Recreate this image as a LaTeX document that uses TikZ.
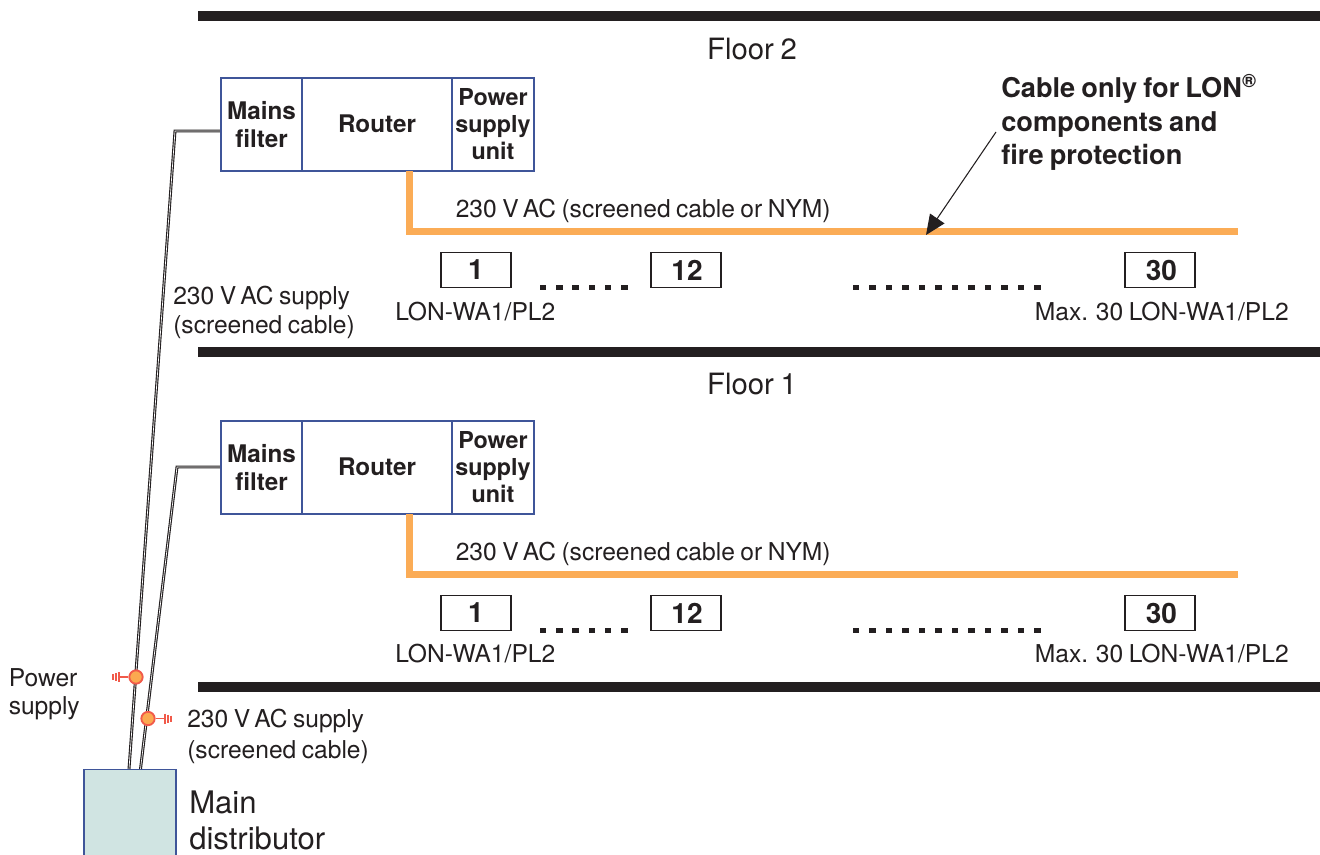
\documentclass[tikz,border=0pt]{standalone}
\usepackage{fontspec}
\setmainfont[WordSpace=0.8]{TeX Gyre Heros}
\usetikzlibrary{arrows.meta}
\definecolor{ink}{HTML}{231F20}
\definecolor{boxblue}{HTML}{3F5599}
\definecolor{cableor}{HTML}{FBAC56}
\definecolor{mainfill}{HTML}{D0E4E2}
\definecolor{symred}{HTML}{F15A4A}
\definecolor{symor}{HTML}{FBA950}
\tikzset{
  x=0.75pt,y=-0.75pt,
  floorbar/.style={fill=ink,draw=none,minimum width=841.5pt,minimum height=7.5pt,inner sep=0pt,anchor=west},
  floorlabel/.style={font=\fontsize{22}{25}\selectfont,text=ink,inner sep=0pt},
  part/.style={draw=boxblue,line width=1.6pt,minimum height=69.75pt,inner sep=0pt,align=center,text=ink,font=\fontsize{18.2}{21.5}\selectfont\bfseries},
  psu/.style={part,font=\fontsize{17.5}{20.3}\selectfont\bfseries},
  wa/.style={draw=ink,line width=0.9pt,minimum width=52.5pt,minimum height=26.25pt,inner sep=0pt,text=ink,font=\fontsize{21}{24}\selectfont\bfseries},
  small/.style={font=\fontsize{18.45}{21.5}\selectfont,text=ink,inner sep=0pt,align=left},
  orange/.style={draw=cableor,line width=5.25pt,line join=miter},
  wire/.style={draw=ink,line width=0.85pt,double=white,double distance=0.5pt,line join=miter},
  dotm/.style={fill=ink,draw=none,minimum width=4.8pt,minimum height=4pt,inner sep=0pt},
  sym/.style={circle,fill=symor,draw=symred,line width=1.4pt,minimum size=10pt,inner sep=0pt},
  symline/.style={draw=symred,line width=1pt},
}
\newcommand{\floorset}[5]{% #1 prefix, #2 box centre y, #3 orange y, #4 box row y, #5 label y
  \node[part,minimum width=60.75pt] (#1mf) at (261.5,#2) {Mains\\filter};
  \node[part,minimum width=112.5pt] (#1rt) at (377,#2) {\raisebox{1pt}{Router}};
  \node[psu,minimum width=61.5pt] (#1ps) at (493,#2) {Power\\supply\\unit};
  \coordinate (#1oa) at (409,#2+46.5);
  \coordinate (#1ob) at (409,#3);
  \coordinate (#1oc) at (1238,#3);
  \draw[orange] (#1oa) -- (#1ob) -- (#1oc);
  \node[wa] (#1a) at (476,#4) {1};
  \node[wa] (#1b) at (686,#4) {\hspace{1.5pt}12};
  \node[wa] (#1c) at (1160,#4) {\hspace{2pt}30};
  \foreach \i in {0,...,5}{\node[dotm] (#1d\i) at (543+16.3*\i,#4+17.5) {};}
  \foreach \i in {0,...,11}{\node[dotm] (#1e\i) at (856+16.5*\i,#4+17.5) {};}
  \node[small,anchor=base west] (#1lw) at (395,#5) {LON-WA1/PL2};
  \node[small,anchor=base east] (#1lx) at (1289,#5) {Max. 30 LON-WA1/PL2};
  \node[small,anchor=base west] (#1lv) at (455.5,#3-14) {230 V\,AC (screened cable or NYM)};
}
\begin{document}
\begin{tikzpicture}
\useasboundingbox (0,0) rectangle (1320,854);
\clip (0,0) rectangle (1320,854);
% floor bars
\node[floorbar] (bar2) at (198,16) {};
\node[floorbar] (bar1) at (198,352) {};
\node[floorbar] (bar0) at (198,687) {};
\node[floorlabel] (fl2) at (752,49) {Floor 2};
\node[floorlabel] (fl1) at (752,384) {Floor 1};
% floors
\floorset{u}{124.5}{231}{270}{320}
\floorset{l}{467.5}{574}{613}{662}
% main distributor
\node[draw=boxblue,fill=mainfill,line width=1.4pt,minimum width=69pt,minimum height=80pt,inner sep=0pt,anchor=north west] (md) at (83,768.5) {};
\node[font=\fontsize{23.3}{26.5}\selectfont,text=ink,inner sep=0pt,align=left,anchor=north west] (mdl) at (189,791) {Main\\distributor};
% cables
\coordinate (wa) at (129,769);
\coordinate (wab) at (175,131);
\coordinate (wb) at (140.5,769);
\coordinate (wbb) at (177,467);
\draw[wire] (wa) -- (wab) -- (wab -| umf.west);
\draw[wire] (wb) -- (wbb) -- (wbb -| lmf.west);
% labels
\node[small,anchor=north west] (sup2) at (173,286) {230 V\,AC supply\\(screened cable)};
\node[small,anchor=north west] (sup1) at (187,709) {230 V\,AC supply\\[1.5pt](screened cable)};
\node[small,anchor=north west] (pw) at (8.5,668) {Power\\supply};
\node[font=\fontsize{20.4}{25.3}\selectfont\bfseries,text=ink,inner sep=0pt,align=left,anchor=north west] (cab) at (1001,74) {Cable only for LON\textsuperscript{®}\\components and\\fire protection};
% arrow
\coordinate (arra) at (996,132);
\coordinate (arrb) at (926,235);
\draw[ink,line width=0.8pt,-{Triangle[length=15pt,width=13pt]}] (arra) -- (arrb);
% symbols
\node[sym] (s1) at (136,677) {};
\coordinate (s1e) at (119,677);
\draw[symline] (s1) -- (s1e);
\draw[symline] (119,672) -- (119,682) (116,673) -- (116,681) (113,674) -- (113,680);
\node[sym] (s2) at (148,718.5) {};
\coordinate (s2e) at (165,718.5);
\draw[symline] (s2) -- (s2e);
\draw[symline] (165,713.5) -- (165,723.5) (168,714.5) -- (168,722.5) (171,715.5) -- (171,721.5);
\end{tikzpicture}
\end{document}
